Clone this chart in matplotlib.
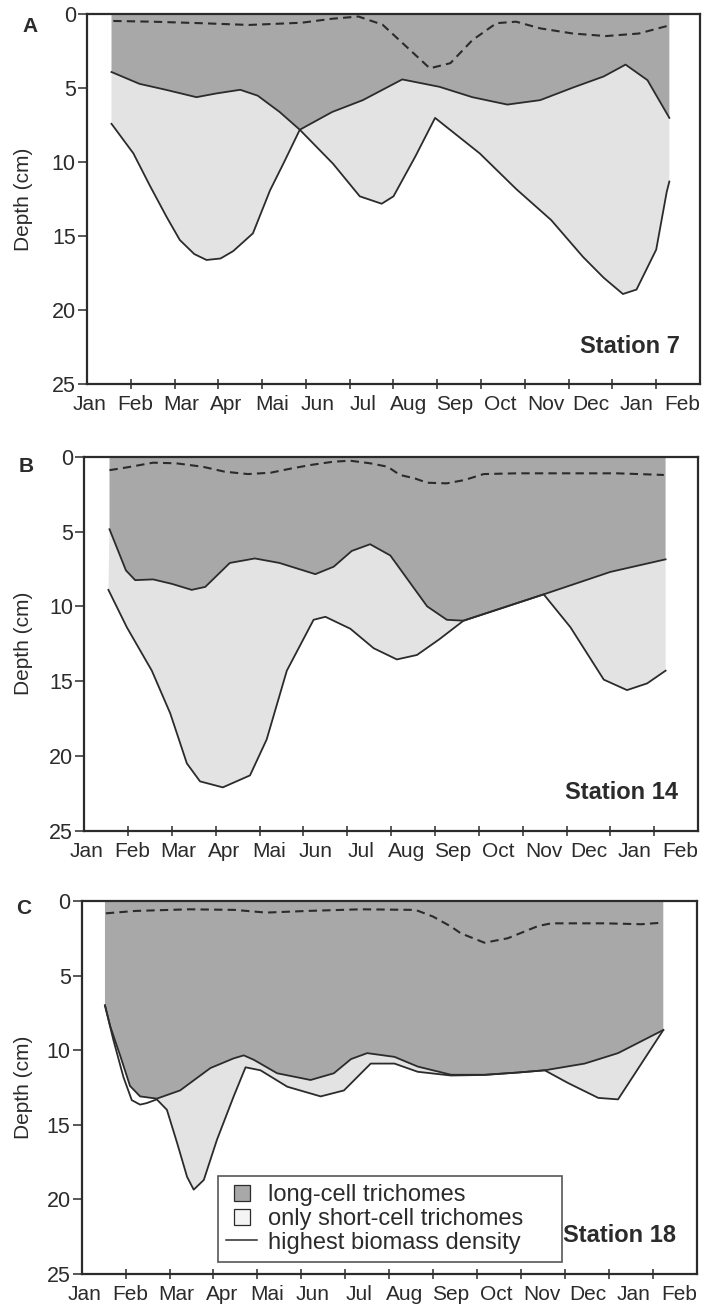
# -*- coding: utf-8 -*-
"""
Profondeur des trichomes (longues et courtes cellules) dans le sédiment
pour les stations 7, 14 et 18, sur un cycle annuel.
"""

import numpy as np
import matplotlib
matplotlib.use("Agg")
import matplotlib.pyplot as plt
from matplotlib.lines import Line2D

plt.rcParams['font.family'] = ['Liberation Sans', 'DejaVu Sans']

# === Données (mois depuis janvier, profondeur en cm) ===
mois = ["Jan", "Feb", "Mar", "Apr", "Mai", "Jun", "Jul",
        "Aug", "Sep", "Oct", "Nov", "Dec", "Jan", "Feb"]

# Station 7
s7_x_long = [0.56, 1.2, 1.8, 2.5, 2.95, 3.5, 3.9, 4.4, 4.86, 5.6, 6.3, 7.2,
             8.05, 8.8, 9.6, 10.35, 11.1, 11.8, 12.3, 12.8, 13.3]
s7_long = [3.9, 4.7, 5.1, 5.6, 5.35, 5.1, 5.5, 6.6, 7.8, 6.6, 5.8, 4.4,
           4.9, 5.6, 6.1, 5.8, 4.95, 4.2, 3.4, 4.45, 7.0]
s7_x_court = [0.56, 1.06, 1.44, 1.82, 2.12, 2.45, 2.73, 3.05, 3.34, 3.79,
              4.18, 4.5, 4.86, 5.62, 6.23, 6.73, 7.0, 7.5, 7.95, 8.97, 9.8,
              10.6, 11.33, 11.8, 12.24, 12.55, 13.0, 13.24, 13.3]
s7_court = [7.4, 9.4, 11.6, 13.7, 15.25, 16.2, 16.6, 16.5, 16.0, 14.8,
            11.9, 10.0, 7.8, 10.1, 12.3, 12.8, 12.3, 9.6, 7.0, 9.4, 11.8,
            13.9, 16.4, 17.8, 18.9, 18.6, 15.9, 12.0, 11.3]
s7_x_biomasse = [0.6, 1.5, 2.6, 3.7, 4.9, 5.6, 6.2, 6.75, 7.3, 7.83, 8.3,
                 8.8, 9.35, 9.8, 10.35, 11.1, 11.85, 12.6, 13.3]
s7_biomasse = [0.45, 0.5, 0.6, 0.72, 0.57, 0.3, 0.15, 0.7, 2.2, 3.65, 3.3,
               1.75, 0.6, 0.5, 0.95, 1.3, 1.47, 1.3, 0.75]

# Station 14
s14_x_long = [0.575, 0.95, 1.16, 1.57, 2.0, 2.45, 2.76, 3.32, 3.89, 4.45,
              5.27, 5.69, 6.1, 6.52, 6.98, 7.4, 7.82, 8.27, 8.65, 10.48,
              12.0, 13.26]
s14_long = [4.85, 7.6, 8.25, 8.2, 8.5, 8.9, 8.7, 7.1, 6.8, 7.1,
            7.85, 7.35, 6.3, 5.85, 6.6, 8.3, 10.0, 10.9, 10.96, 9.2,
            7.7, 6.86]
s14_x_court = [0.55, 0.97, 1.54, 1.96, 2.34, 2.64, 3.16, 3.78, 4.16, 4.62,
               5.23, 5.5, 6.07, 6.6, 7.13, 7.59, 8.1, 8.65, 10.48, 11.09,
               11.85, 12.38, 12.84, 13.26]
s14_court = [8.9, 11.4, 14.3, 17.15, 20.5, 21.7, 22.1, 21.3, 18.9, 14.3,
             10.9, 10.7, 11.5, 12.8, 13.55, 13.25, 12.2, 10.96, 9.2, 11.4,
             14.9, 15.6, 15.15, 14.3]
s14_x_biomasse = [0.575, 1.0, 1.57, 2.09, 2.7, 3.2, 3.73, 4.25, 4.7, 5.17,
                  5.69, 6.07, 6.52, 6.92, 7.2, 7.54, 7.82, 8.27, 8.67, 9.11,
                  9.87, 11.0, 12.15, 13.22]
s14_biomasse = [0.9, 0.7, 0.4, 0.44, 0.67, 1.0, 1.16, 1.07, 0.8, 0.55,
                0.33, 0.27, 0.44, 0.67, 1.22, 1.45, 1.74, 1.78, 1.56, 1.16,
                1.11, 1.11, 1.11, 1.22]

# Station 18
s18_x_long = [0.53, 0.65, 0.88, 1.1, 1.33, 1.71, 2.24, 2.93, 3.46, 3.69,
              3.92, 4.45, 5.21, 5.74, 6.13, 6.5, 7.12, 7.65, 8.41, 9.17,
              9.93, 10.54, 11.45, 12.21, 13.24]
s18_long = [7.0, 8.4, 10.4, 12.4, 13.1, 13.25, 12.7, 11.2, 10.55, 10.35,
            10.65, 11.55, 12.0, 11.55, 10.6, 10.2, 10.45, 11.1, 11.65, 11.65,
            11.5, 11.35, 10.9, 10.2, 8.65]
s18_x_court = [0.53, 0.72, 0.95, 1.14, 1.33, 1.48, 1.71, 1.94, 2.17, 2.4,
               2.55, 2.78, 3.08, 3.46, 3.73, 4.07, 4.68, 5.44, 5.97, 6.58,
               7.12, 7.65, 8.41, 9.17, 9.93, 10.54, 11.07, 11.76, 12.21, 13.24]
s18_court = [7.0, 9.3, 11.8, 13.35, 13.65, 13.55, 13.3, 14.0, 16.2, 18.5,
             19.35, 18.7, 16.0, 13.1, 11.15, 11.35, 12.45, 13.1, 12.7, 10.9,
             10.9, 11.45, 11.7, 11.66, 11.5, 11.35, 12.2, 13.2, 13.3, 8.65]
s18_x_biomasse = [0.55, 1.22, 2.45, 3.48, 4.2, 5.13, 6.36, 7.6, 8.0, 8.41,
                  8.63, 9.17, 9.7, 10.39, 10.69, 11.91, 12.74, 13.2]
s18_biomasse = [0.83, 0.67, 0.56, 0.6, 0.78, 0.67, 0.56, 0.6, 1.05, 1.72,
                2.17, 2.8, 2.5, 1.68, 1.5, 1.5, 1.56, 1.46]

# === Style ===
gris_fonce = "#a8a8a8"
gris_clair = "#e3e3e3"
encre = "#2b2b2b"
positions_mois = np.linspace(0.06, 13.6, 14)

stations = [
    dict(nom="Station 7", lettre="A", rect=[0.1232, 0.7071, 0.8683, 0.2820],
         lettre_xy=(30, 26), x_long=s7_x_long, long=s7_long,
         x_court=s7_x_court, court=s7_court, debut_clair=0.0,
         x_bio=s7_x_biomasse, bio=s7_biomasse, ylab_x=-0.088),
    dict(nom="Station 14", lettre="B", rect=[0.1194, 0.3668, 0.8693, 0.2851],
         lettre_xy=(26, 466), x_long=s14_x_long, long=s14_long,
         x_court=s14_x_court, court=s14_court, debut_clair=0.0,
         x_bio=s14_x_biomasse, bio=s14_biomasse, ylab_x=-0.084),
    dict(nom="Station 18", lettre="C", rect=[0.1157, 0.0290, 0.8711, 0.2843],
         lettre_xy=(24, 909), x_long=s18_x_long, long=s18_long,
         x_court=s18_x_court, court=s18_court, debut_clair=1.7,
         x_bio=s18_x_biomasse, bio=s18_biomasse, ylab_x=-0.079),
]

fig = plt.figure(figsize=(7.06, 13.12), dpi=100)

for st in stations:
    ax = fig.add_axes(st["rect"])
    xl = np.array(st["x_long"])
    yl = np.array(st["long"])
    xc = np.array(st["x_court"])
    yc = np.array(st["court"])

    # zone des trichomes à longues cellules (surface -> limite)
    ax.fill(np.r_[xl[0], xl, xl[-1]], np.r_[0, yl, 0],
            color=gris_fonce, lw=0, zorder=1)

    # zone des trichomes à courtes cellules seulement (entre les deux limites)
    ml = xl >= st["debut_clair"]
    mc = xc >= st["debut_clair"]
    ax.fill(np.r_[xl[ml], xc[mc][::-1]], np.r_[yl[ml], yc[mc][::-1]],
            color=gris_clair, lw=0, zorder=1)

    ax.plot(xl, yl, color=encre, lw=1.3, zorder=3)
    ax.plot(xc, yc, color=encre, lw=1.3, zorder=3)
    ax.plot(st["x_bio"], st["bio"], color=encre, lw=1.5,
            dashes=(4, 2.5), zorder=3)

    ax.set_xlim(0, 14)
    ax.set_ylim(25, 0)
    ax.set_yticks([0, 5, 10, 15, 20, 25])
    ax.set_xticks(range(1, 14))
    ax.set_xticklabels([])
    ax.set_xticks(positions_mois, minor=True)
    ax.set_xticklabels(mois, minor=True)
    ax.tick_params(axis="x", which="major", direction="inout", length=7,
                   width=1.1, color=encre)
    ax.tick_params(axis="x", which="minor", length=0, pad=8,
                   labelsize=15, labelcolor=encre)
    ax.tick_params(axis="y", direction="out", length=6.5, width=1.1,
                   pad=1.5, labelsize=15.5, color=encre, labelcolor=encre)
    for sp in ax.spines.values():
        sp.set_linewidth(1.6)
        sp.set_color(encre)

    ax.set_ylabel("Depth (cm)", fontsize=15, color=encre)
    ax.yaxis.set_label_coords(st["ylab_x"], 0.5)

    ax.text(0.967, 0.072, st["nom"], transform=ax.transAxes, ha="right",
            va="bottom", fontsize=17, fontweight="bold", color=encre)
    fig.text(st["lettre_xy"][0] / 706, 1 - st["lettre_xy"][1] / 1312,
             st["lettre"], ha="center", va="center", fontsize=15,
             fontweight="bold", color=encre)

# Légende dans le dernier panneau
poignees = [
    Line2D([], [], marker="s", markersize=12, markerfacecolor=gris_fonce,
           markeredgecolor=encre, markeredgewidth=0.9, linestyle="none"),
    Line2D([], [], marker="s", markersize=12, markerfacecolor="#f4f4f4",
           markeredgecolor=encre, markeredgewidth=0.9, linestyle="none"),
    Line2D([], [], color=encre, lw=1.1),
]
etiquettes = ["long-cell trichomes", "only short-cell trichomes",
              "highest biomass density"]
leg = ax.legend(poignees, etiquettes, loc="lower left",
                bbox_to_anchor=(0.2216, 0.032, 0.5594, 0.2254), mode="expand",
                fontsize=17, frameon=True, fancybox=False, borderpad=0.35,
                labelspacing=0.08, handlelength=1.3, handletextpad=0.45,
                borderaxespad=0)
leg.get_frame().set_edgecolor(encre)
leg.get_frame().set_linewidth(1.2)
for t in leg.get_texts():
    t.set_color(encre)

fig.savefig("out.png", dpi=100, facecolor="white")
